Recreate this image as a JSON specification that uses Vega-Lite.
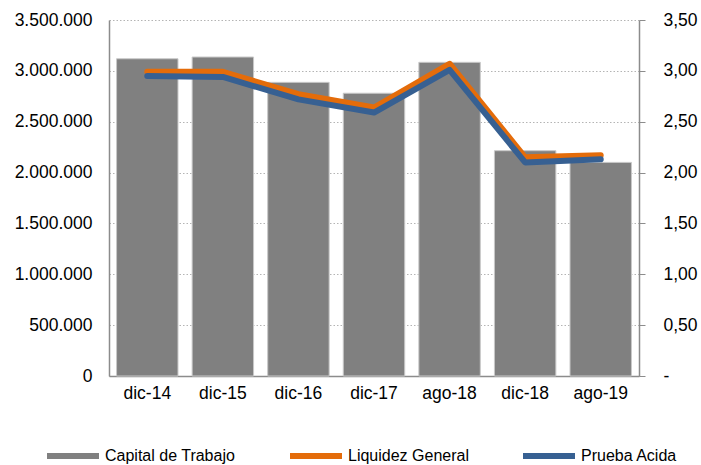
{
  "$schema": "https://vega.github.io/schema/vega-lite/v6.json",
  "width": 530,
  "height": 356,
  "autosize": {"type": "none"},
  "padding": {"left": 109, "top": 20, "right": 62, "bottom": 89},
  "config": {
    "view": {"stroke": null},
    "font": "Liberation Sans",
    "locale": {"number": {"decimal": ",", "thousands": ".", "grouping": [3], "currency": ["", ""]}},
    "axis": {"labelFont": "Liberation Sans", "labelColor": "#000000", "labelFontSize": 17.5, "domainColor": "#8c8c8c", "tickColor": "#8c8c8c", "title": null}
  },
  "datasets": {
    "capital": [
      {"periodo": "dic-14", "serie": "Capital de Trabajo", "valor": 3119000},
      {"periodo": "dic-15", "serie": "Capital de Trabajo", "valor": 3136000},
      {"periodo": "dic-16", "serie": "Capital de Trabajo", "valor": 2887000},
      {"periodo": "dic-17", "serie": "Capital de Trabajo", "valor": 2780000},
      {"periodo": "ago-18", "serie": "Capital de Trabajo", "valor": 3084000},
      {"periodo": "dic-18", "serie": "Capital de Trabajo", "valor": 2215000},
      {"periodo": "ago-19", "serie": "Capital de Trabajo", "valor": 2100000}
    ],
    "ratios": [
      {"periodo": "dic-14", "serie": "Liquidez General", "valor": 2.99},
      {"periodo": "dic-15", "serie": "Liquidez General", "valor": 2.99},
      {"periodo": "dic-16", "serie": "Liquidez General", "valor": 2.77},
      {"periodo": "dic-17", "serie": "Liquidez General", "valor": 2.64},
      {"periodo": "ago-18", "serie": "Liquidez General", "valor": 3.07},
      {"periodo": "dic-18", "serie": "Liquidez General", "valor": 2.15},
      {"periodo": "ago-19", "serie": "Liquidez General", "valor": 2.17},
      {"periodo": "dic-14", "serie": "Prueba Acida", "valor": 2.95},
      {"periodo": "dic-15", "serie": "Prueba Acida", "valor": 2.94},
      {"periodo": "dic-16", "serie": "Prueba Acida", "valor": 2.72},
      {"periodo": "dic-17", "serie": "Prueba Acida", "valor": 2.59},
      {"periodo": "ago-18", "serie": "Prueba Acida", "valor": 3.01},
      {"periodo": "dic-18", "serie": "Prueba Acida", "valor": 2.10},
      {"periodo": "ago-19", "serie": "Prueba Acida", "valor": 2.13}
    ]
  },
  "encoding": {
    "x": {
      "field": "periodo", "type": "nominal", "sort": null,
      "scale": {"domain": ["dic-14", "dic-15", "dic-16", "dic-17", "ago-18", "dic-18", "ago-19"], "paddingInner": 0.187, "paddingOuter": 0.1},
      "axis": {"labelAngle": 0, "ticks": false, "labelPadding": 8, "domainColor": "#8c8c8c", "domainWidth": 1.5}
    },
    "color": {
      "field": "serie", "type": "nominal",
      "scale": {"domain": ["Capital de Trabajo", "Liquidez General", "Prueba Acida"], "range": ["#808080", "#E46C0A", "#376092"]},
      "legend": {
        "title": null, "orient": "none", "legendX": -62, "legendY": 410,
        "direction": "horizontal", "columns": 3, "columnPadding": 54,
        "symbolType": "M-1,-0.12H1V0.12H-1Z", "symbolSize": 2704, "symbolStrokeWidth": 0,
        "labelFont": "Liberation Sans", "labelFontSize": 16, "labelColor": "#000000", "labelOffset": 6,
        "encode": {"symbols": {"update": {"fill": {"scale": "color", "field": "value"}, "stroke": {"value": "transparent"}}}}
      }
    }
  },
  "layer": [
    {
      "data": {"name": "capital"},
      "mark": {"type": "bar", "stroke": "#c8c8c8", "strokeWidth": 1},
      "encoding": {
        "y": {
          "field": "valor", "type": "quantitative",
          "scale": {"domain": [0, 3500000], "nice": false},
          "axis": {
            "orient": "left", "values": [0, 500000, 1000000, 1500000, 2000000, 2500000, 3000000, 3500000],
            "format": ",d", "ticks": false, "labelPadding": 17, "domainWidth": 1.5,
            "grid": true, "gridColor": "#b4b4b4", "gridDash": [1.5, 2], "gridWidth": 1
          }
        }
      }
    },
    {
      "data": {"name": "ratios"},
      "mark": {"type": "line", "strokeWidth": 6, "strokeCap": "round", "strokeJoin": "round"},
      "encoding": {
        "y": {
          "field": "valor", "type": "quantitative",
          "scale": {"domain": [0, 3.5], "nice": false},
          "axis": {
            "orient": "right", "values": [0, 0.5, 1, 1.5, 2, 2.5, 3, 3.5],
            "format": ".2f", "labelExpr": "datum.value === 0 ? '-' : datum.label",
            "tickSize": 6, "labelPadding": 18, "domainWidth": 1.5, "grid": false
          }
        },
        "detail": {"field": "serie"}
      }
    }
  ],
  "resolve": {"scale": {"y": "independent"}}
}
